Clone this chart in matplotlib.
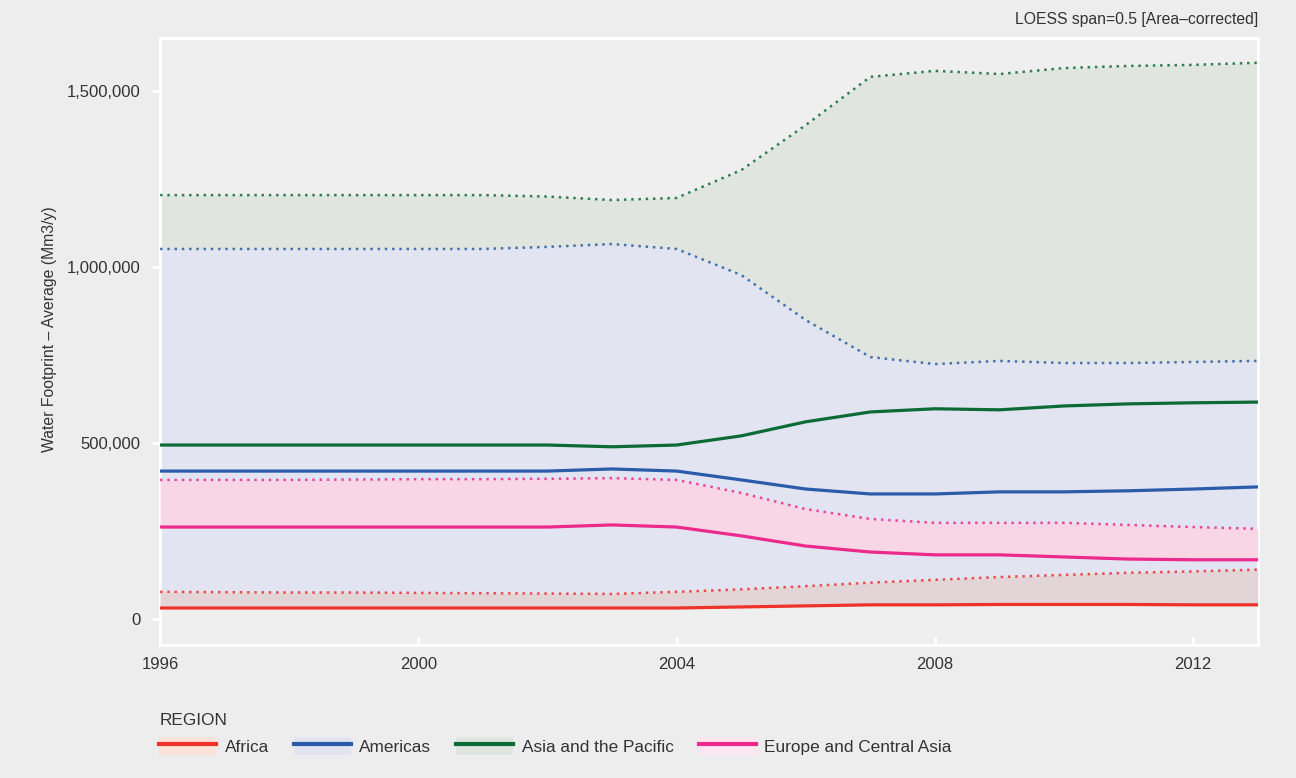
import numpy as np
import matplotlib
matplotlib.use("Agg")
import matplotlib.pyplot as plt
from matplotlib.lines import Line2D
from matplotlib.patches import Patch
from matplotlib.ticker import FuncFormatter

plt.rcParams['font.family'] = ['Liberation Sans', 'DejaVu Sans']

# Years and region values (Mm3/y)
years = list(range(1996, 2014))

africa_mean = [31000, 31000, 31000, 31000, 31000, 31000, 31000, 31000, 31000,
               34000, 37000, 40000, 40000, 41000, 41000, 41000, 40000, 40000]
africa_upper = [77000, 76000, 75000, 75000, 74000, 73000, 72000, 71000, 77000,
                84000, 93000, 103000, 111000, 119000, 125000, 131000, 135000, 140000]

americas_mean = [420000, 420000, 420000, 420000, 420000, 420000, 420000, 426000, 420000,
                 395000, 369000, 355000, 355000, 361000, 361000, 364000, 369000, 375000]
americas_upper = [1051000, 1051000, 1051000, 1051000, 1051000, 1051000, 1057000, 1065000, 1051000,
                  977000, 849000, 744000, 724000, 733000, 727000, 727000, 730000, 733000]

asia_mean = [494000, 494000, 494000, 494000, 494000, 494000, 494000, 489000, 494000,
             520000, 560000, 588000, 597000, 594000, 605000, 611000, 614000, 616000]
asia_upper = [1204000, 1204000, 1204000, 1204000, 1204000, 1204000, 1200000, 1190000, 1196000,
              1275000, 1403000, 1540000, 1557000, 1548000, 1565000, 1571000, 1574000, 1580000]

europe_mean = [261000, 261000, 261000, 261000, 261000, 261000, 261000, 267000, 261000,
               236000, 207000, 190000, 182000, 182000, 176000, 170000, 168000, 168000]
europe_upper = [395000, 395000, 395000, 396000, 397000, 397000, 398000, 400000, 395000,
                358000, 312000, 284000, 273000, 273000, 273000, 267000, 261000, 256000]

regions = ["Africa", "Americas", "Asia and the Pacific", "Europe and Central Asia"]
line_colors = {"Africa": "#ee3129", "Americas": "#2a5caa",
               "Asia and the Pacific": "#0d6b35", "Europe and Central Asia": "#ec2a8c"}
key_fills = {"Africa": "#fde2da", "Americas": "#e2e4f1",
             "Asia and the Pacific": "#dfe6df", "Europe and Central Asia": "#fde8f1"}

fig = plt.figure(figsize=(12.96, 7.78), dpi=100, facecolor="#ededed")
ax = fig.add_axes([0.1235, 0.171, 0.847, 0.780])
ax.set_facecolor("#efefef")

# ribbons (drawn back to front, opaque blend colours from the picture)
ax.fill_between(years, africa_mean, asia_upper, color="#e0e6df", lw=0, zorder=1)
ax.fill_between(years, africa_mean, americas_upper, color="#e2e4f1", lw=0, zorder=2)
ax.fill_between(years, europe_mean, europe_upper, color="#f9d6e6", lw=0, zorder=3)
ax.fill_between(years, africa_mean, africa_upper, color="#e3d4d7", lw=0, zorder=3)

dot = (0, (1, 1.9))
ax.plot(years, asia_upper, color=line_colors["Asia and the Pacific"], lw=1.8, ls=dot, zorder=4, alpha=0.85)
ax.plot(years, americas_upper, color=line_colors["Americas"], lw=1.8, ls=dot, zorder=4, alpha=0.85)
ax.plot(years, europe_upper, color=line_colors["Europe and Central Asia"], lw=1.8, ls=dot, zorder=4, alpha=0.85)
ax.plot(years, africa_upper, color=line_colors["Africa"], lw=1.8, ls=dot, zorder=4, alpha=0.85)

ax.plot(years, asia_mean, color=line_colors["Asia and the Pacific"], lw=2.3, zorder=5)
ax.plot(years, americas_mean, color=line_colors["Americas"], lw=2.3, zorder=5)
ax.plot(years, europe_mean, color=line_colors["Europe and Central Asia"], lw=2.3, zorder=5)
ax.plot(years, africa_mean, color=line_colors["Africa"], lw=2.3, zorder=5)

ax.set_xlim(1996, 2013)
ax.set_ylim(-74000, 1650000)
ax.set_xticks([1996, 2000, 2004, 2008, 2012])
ax.set_yticks([0, 500000, 1000000, 1500000])
ax.yaxis.set_major_formatter(FuncFormatter(lambda v, p: f"{int(v):,}"))

for s in ax.spines.values():
    s.set_color("white")
    s.set_linewidth(2.2)
ax.tick_params(axis="y", direction="out", length=6, width=2.2, color="white",
               labelsize=12, labelcolor="#333333", pad=8)
ax.tick_params(axis="x", direction="in", length=6, width=2.2, color="white",
               labelsize=12, labelcolor="#333333", pad=9)

ax.set_ylabel("Water Footprint \u2013 Average (Mm3/y)", fontsize=11.3, color="#333333", labelpad=4)
ax.yaxis.set_label_coords(-0.094, 0.52)
fig.text(0.9707, 0.965, "LOESS span=0.5 [Area\u2013corrected]", ha="right", va="bottom",
         fontsize=11.3, color="#333333")

handles = []
for r in regions:
    handles.append((Patch(facecolor=key_fills[r], edgecolor="none"),
                    Line2D([0], [0], color=line_colors[r], lw=3)))
leg = fig.legend(handles, regions, loc="lower left", bbox_to_anchor=(0.111, 0.01),
                 ncol=4, frameon=False, title="REGION", fontsize=12.4, title_fontsize=12.4,
                 handlelength=3.3, handleheight=1.2, columnspacing=1.45, handletextpad=0.5,
                 alignment="left")
leg.get_title().set_color("#333333")
for t in leg.get_texts():
    t.set_color("#333333")

fig.savefig("out.png", dpi=100, facecolor=fig.get_facecolor())
